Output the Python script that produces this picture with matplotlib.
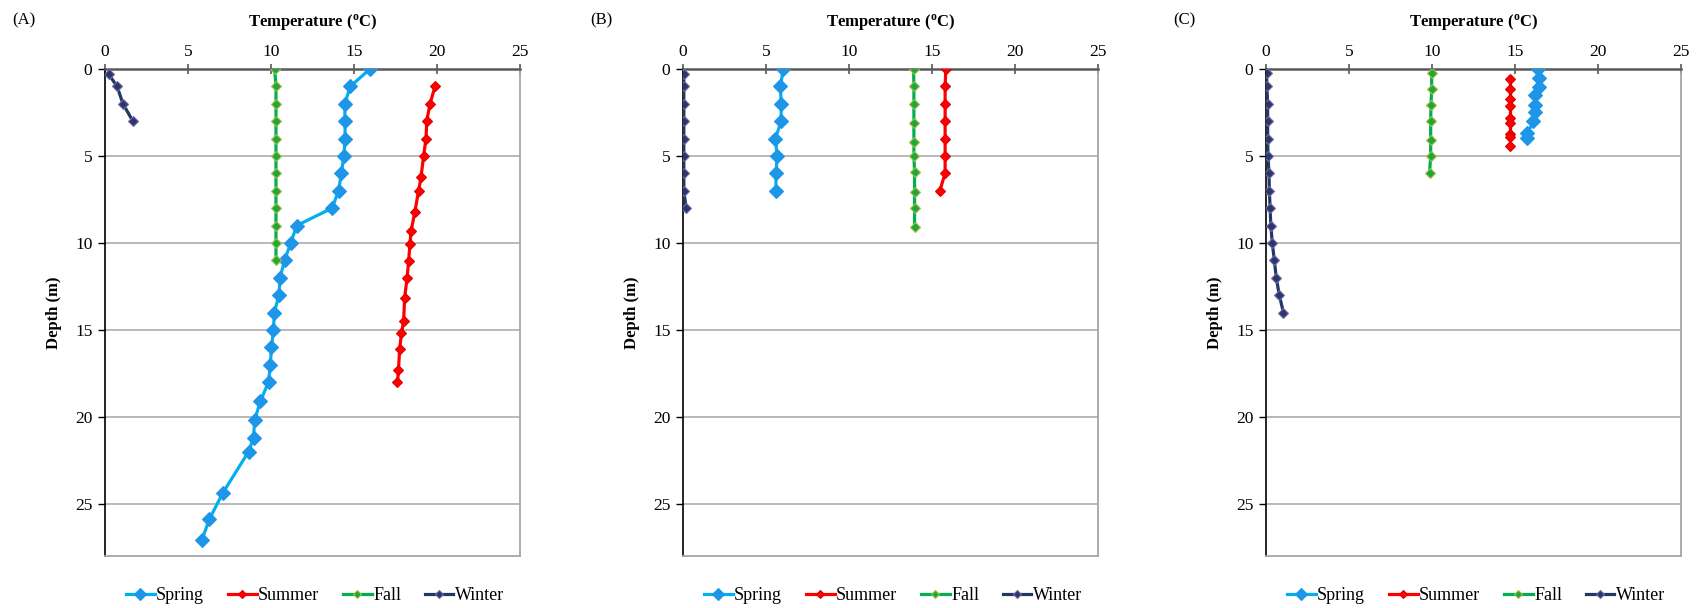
import matplotlib
matplotlib.use("Agg")
import matplotlib.pyplot as plt
from matplotlib.lines import Line2D

plt.rcParams['font.family'] = ['Liberation Serif', 'DejaVu Serif']

# temperature profiles, depth (m) vs temperature (deg C)
# site A
spring_A_depth = [0, 1, 2, 3, 4, 5, 6, 7, 8, 9, 10, 11, 12, 13, 14, 15, 16, 17, 18, 19.1, 20.2, 21.2, 22, 24.4, 25.9, 27.1]
spring_A_temp = [15.96, 14.78, 14.44, 14.46, 14.46, 14.39, 14.24, 14.07, 13.68, 11.55, 11.19, 10.82, 10.54, 10.48,
                 10.2, 10.15, 10.03, 9.96, 9.85, 9.36, 9.01, 8.95, 8.65, 7.08, 6.28, 5.83]
summer_A_depth = [1, 2, 3, 4, 5, 6.2, 7, 8.2, 9.3, 10.05, 11.05, 12, 13.15, 14.5, 15.2, 16.1, 17.3, 18]
summer_A_temp = [19.88, 19.58, 19.38, 19.34, 19.19, 19.04, 18.89, 18.67, 18.44, 18.37, 18.29, 18.2, 18.05, 17.99,
                 17.86, 17.75, 17.68, 17.62]
fall_A_depth = [0, 1, 2, 3, 4, 5, 6, 7, 8, 9, 10, 11]
fall_A_temp = [10.22, 10.3, 10.3, 10.3, 10.3, 10.3, 10.3, 10.3, 10.3, 10.3, 10.3, 10.3]
winter_A_depth = [0.3, 1, 2, 3]
winter_A_temp = [0.22, 0.73, 1.08, 1.68]

# site B
spring_B_depth = [0, 1, 2, 3, 4, 5, 6, 7]
spring_B_temp = [6.04, 5.87, 5.91, 5.91, 5.57, 5.67, 5.61, 5.59]
summer_B_depth = [0, 1, 2, 3, 4, 5, 6, 7]
summer_B_temp = [15.83, 15.79, 15.79, 15.79, 15.79, 15.79, 15.79, 15.47]
fall_B_depth = [0, 1, 2, 3.1, 4.2, 5, 5.9, 7.1, 8, 9.1]
fall_B_temp = [13.89, 13.91, 13.91, 13.91, 13.91, 13.91, 13.95, 13.95, 13.95, 13.95]
winter_B_depth = [0.3, 1, 2, 3, 4, 5, 6, 7, 8]
winter_B_temp = [0.05, 0.05, 0.05, 0.05, 0.05, 0.05, 0.05, 0.05, 0.19]

# site C
spring_C_depth = [0, 0.5, 1.05, 1.5, 2.05, 2.5, 3, 3.7, 3.95]
spring_C_temp = [16.4, 16.42, 16.42, 16.22, 16.18, 16.18, 16.11, 15.75, 15.75]
summer_C_depth = [0.6, 1.15, 1.7, 2.1, 2.8, 3.1, 3.75, 3.9, 4.45]
summer_C_temp = [14.7, 14.7, 14.7, 14.7, 14.7, 14.7, 14.7, 14.7, 14.7]
fall_C_depth = [0.25, 1.15, 2.05, 3, 4.1, 5, 6]
fall_C_temp = [9.98, 9.98, 9.94, 9.92, 9.92, 9.92, 9.85]
winter_C_depth = [0.25, 1, 2, 3, 4, 5, 6, 7, 8, 9, 10, 11, 12, 13, 14]
winter_C_temp = [0.04, 0.05, 0.1, 0.1, 0.1, 0.12, 0.18, 0.2, 0.25, 0.29, 0.38, 0.5, 0.62, 0.8, 1.05]

seasons = ['Spring', 'Summer', 'Fall', 'Winter']
panels = [
    ('(A)', [(spring_A_temp, spring_A_depth), (summer_A_temp, summer_A_depth),
             (fall_A_temp, fall_A_depth), (winter_A_temp, winter_A_depth)]),
    ('(B)', [(spring_B_temp, spring_B_depth), (summer_B_temp, summer_B_depth),
             (fall_B_temp, fall_B_depth), (winter_B_temp, winter_B_depth)]),
    ('(C)', [(spring_C_temp, spring_C_depth), (summer_C_temp, summer_C_depth),
             (fall_C_temp, fall_C_depth), (winter_C_temp, winter_C_depth)]),
]

# line colour, marker face, marker edge, marker size
styles = {
    'Spring': ('#00B0F0', '#1E96E8', '#1E96E8', 7),
    'Summer': ('#FF0000', '#FF0000', '#E00000', 5.5),
    'Fall':   ('#00B050', '#1FA640', '#A8C040', 5),
    'Winter': ('#1F3864', '#243A6E', '#8064A2', 5),
}

fig = plt.figure(figsize=(16.99, 6.08), dpi=100)
lefts = [105, 683, 1266]
W, H = 1699.0, 608.0

for (tag, series), left in zip(panels, lefts):
    ax = fig.add_axes([left / W, 52 / H, 415 / W, 487 / H])
    for name, (t, d) in zip(seasons, series):
        lc, mf, me, ms = styles[name]
        ax.plot(t, d, color=lc, lw=2.3, marker='D', ms=ms, mfc=mf, mec=me, mew=0.8, zorder=3)

    ax.set_xlim(0, 25)
    ax.set_ylim(28, 0)
    ax.set_xticks([0, 5, 10, 15, 20, 25])
    ax.set_yticks([0, 5, 10, 15, 20, 25])
    ax.xaxis.tick_top()
    ax.xaxis.set_label_position('top')
    ax.tick_params(axis='x', direction='inout', length=7, width=1.2, color='#595959',
                   labelsize=12.5, pad=3)
    ax.tick_params(axis='y', direction='out', length=5, width=1, color='black', labelsize=12.5, pad=4)
    ax.yaxis.grid(True, color='#A6A6A6', lw=1.1)
    ax.set_axisbelow(True)

    ax.spines['top'].set_color('#595959')
    ax.spines['top'].set_linewidth(1.8)
    ax.spines['left'].set_color('black')
    ax.spines['left'].set_linewidth(1.2)
    for s in ['right', 'bottom']:
        ax.spines[s].set_color('#A6A6A6')
        ax.spines[s].set_linewidth(1.3)

    ax.set_xlabel('Temperature ($\\mathregular{^o}$C)', fontsize=12, fontweight='bold', labelpad=13)
    ax.set_ylabel('Depth (m)', fontsize=12, fontweight='bold')
    ax.yaxis.set_label_coords(-0.104, 0.5)

    fig.text((left - 93) / W, 1 - 20 / H, tag, fontsize=12, va='center', ha='left')

    handles = [Line2D([], [], color=styles[n][0], lw=2.3, marker='D', ms=styles[n][3] - 1,
                      mfc=styles[n][1], mec=styles[n][2], mew=0.8) for n in seasons]
    fig.legend(handles, seasons, loc='center', bbox_to_anchor=((left + 210) / W, 1 - 596 / H),
               ncol=4, frameon=False, fontsize=13, handlelength=1.6, handletextpad=0.08,
               columnspacing=1.3)

fig.savefig('out.png', dpi=100)
